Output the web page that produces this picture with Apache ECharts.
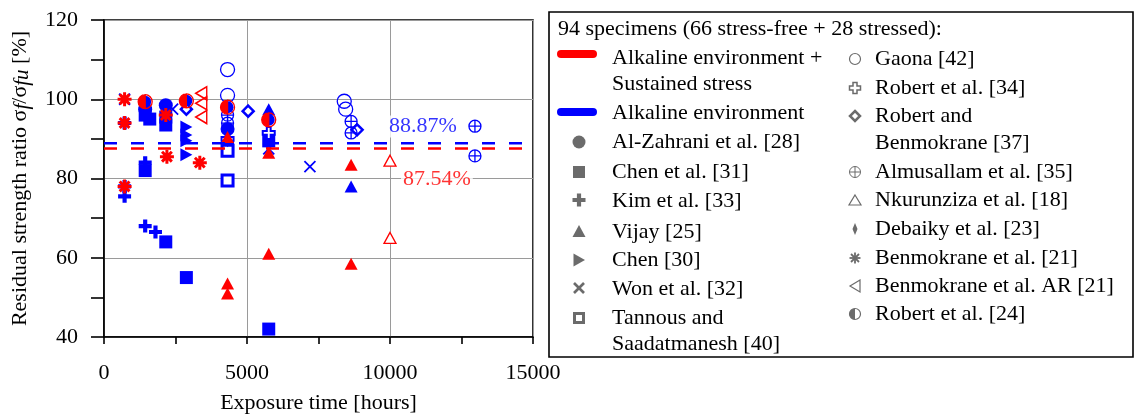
<!DOCTYPE html>
<html>
<head>
<meta charset="utf-8">
<script src="https://cdn.jsdelivr.net/npm/echarts@6/dist/echarts.min.js"></script>
<style>
html,body{margin:0;padding:0;background:#fff;}
#chart{width:1136px;height:419px;}
</style>
</head>
<body>
<div id="chart"></div>
<script>
// ---------------- DATA ----------------
// Stress-free specimens (blue) : [exposure time (h), residual strength ratio (%)]
const alZahraniFree   = [[1440,97.5],[2160,98.5],[4320,92.5]];
const chen31Free      = [[1440,96],[1600,95],[1440,82],[2160,95.5],[2160,93.5],[2160,64],[2880,55],[4320,88],[5760,42],[5760,89.5]];
const kimFree         = [[720,94],[720,78],[720,75.5],[1440,84],[1440,68],[1800,66.5]];
const vijayFree       = [[5760,97.5],[8640,78]];
const chen30Free      = [[2880,93],[2880,91],[2880,89.5],[2880,86]];
const wonFree         = [[720,100],[2400,97.5],[5760,87.5],[7200,83]];
const tannousFree     = [[4320,87],[4320,79.5]];
const gaonaFree       = [[4320,107.5],[4320,101],[8400,99.5],[8450,97.5]];
const robert34Free    = [[5760,91.5],[4320,90]];
const robertBenFree   = [[2880,97.5],[5040,97],[8850,92.3]];
const almusallamFree  = [[4320,96],[4320,94],[8640,94.4],[8640,91.5],[12970,93.2],[12970,85.7]];
const debaikyFree     = [[4320,92],[4320,89.5]];
const robert24Free    = [[1440,99.4],[2880,99.6],[4320,98],[5760,94.8]];
// Stressed specimens (red)
const vijayStressed        = [[4320,90.5],[4320,53.5],[4320,51],[5760,86.5],[5760,61],[8640,83.5],[8640,58.5]];
const nkurunzizaStressed   = [[10000,84.5],[10000,65]];
const benmokraneStressed   = [[720,100],[720,94],[720,78],[2160,96],[2200,85.5],[3350,84]];
const benmokraneARStressed = [[3400,101.5],[3400,99],[3400,95.5]];
const robert24Stressed     = [[1440,99.4],[2880,99.6],[4320,98],[5760,94.8]];
// Mean values
const meanFree = 88.87;
const meanStressed = 87.54;
const meanLabels = ['88.87%','87.54%'];
const meanLabelPos = [[11150,93.1],[11640,79.8]];
const xRange = [0,15000];
// Legend texts
const legendHeader = '94 specimens (66 stress-free + 28 stressed):';
const legendLeft = ['Alkaline environment +','Sustained stress','Alkaline environment','Al-Zahrani et al. [28]','Chen et al. [31]','Kim et al. [33]','Vijay [25]','Chen [30]','Won et al. [32]','Tannous and','Saadatmanesh [40]'];
const legendRight = ['Gaona [42]','Robert et al. [34]','Robert and','Benmokrane [37]','Almusallam et al. [35]','Nkurunziza et al. [18]','Debaiky et al. [23]','Benmokrane et al. [21]','Benmokrane et al. AR [21]','Robert et al. [24]'];

// ---------------- STYLE ----------------
const RED = '#ff0000', BLUE = '#0000ff', GRAY = '#6b6b6b';
const FONT = '"Liberation Serif","Times New Roman",serif';
const FS = 22;
const P = {
  circle: 'M5,0A5,5,0,1,1,5,10A5,5,0,1,1,5,0Z',
  square: 'M0,0H10V10H0Z',
  plus: 'M3.4,0H6.6V3.4H10V6.6H6.6V10H3.4V6.6H0V3.4H3.4Z',
  triUp: 'M5,0L10,9L0,9Z',
  triRight: 'M0,0L9,5L0,10Z',
  triLeft: 'M9,0L0,5L9,10Z',
  cross: 'M0,0L10,10M10,0L0,10',
  diamond: 'M5,0L10,5L5,10L0,5Z',
  crossCircle: 'M5,0A5,5,0,1,1,5,10A5,5,0,1,1,5,0ZM0,5H10M5,0V10',
  thinDiamond: 'M5,0L7.6,5L5,10L2.4,5Z',
  asterisk: 'M5,0V10M0,5H10M1.5,1.5L8.5,8.5M8.5,1.5L1.5,8.5',
  halfLeft: 'M5,0A5,5,0,1,1,5,10A5,5,0,1,1,5,0ZM5,0L5,10A5,5,0,0,0,5,0Z'
};
const T = 'rgba(255,255,255,0)';

function sc(name, data, path, size, fill, stroke, lw, extra) {
  return Object.assign({
    type: 'scatter', name: name, data: data,
    symbol: 'path://' + path, symbolSize: size,
    itemStyle: {color: fill, borderColor: stroke, borderWidth: lw, opacity: 1},
    emphasis: {disabled: true}, silent: true, animation: false
  }, extra || {});
}

const series = [
  // blue (stress-free) first
  sc('Gaona', gaonaFree, P.circle, 14, T, BLUE, 1.3),
  sc('Al-Zahrani', alZahraniFree, P.circle, 14, BLUE, BLUE, 0),
  sc('Robert24F', robert24Free, P.circle, 12, BLUE, BLUE, 0),
  sc('Chen31', chen31Free, P.square, 13, BLUE, BLUE, 0),
  sc('Kim', kimFree, P.plus, 13, BLUE, BLUE, 0),
  sc('Vijay F', vijayFree, P.triUp, [13,12], BLUE, BLUE, 0),
  sc('Chen30', chen30Free, P.triRight, [12,13], BLUE, BLUE, 0),
  sc('Won', wonFree, P.cross, 11, T, BLUE, 1.8),
  sc('Tannous', tannousFree, P.square, 11, '#fff', BLUE, 3),
  sc('Robert34', robert34Free, P.plus, 12, '#fff', BLUE, 2),
  sc('RobertBen', robertBenFree, P.diamond, 11, '#fff', BLUE, 2.5),
  sc('Almusallam', almusallamFree, P.crossCircle, 12, T, BLUE, 1.3),
  sc('Debaiky', debaikyFree, P.thinDiamond, [7,13], BLUE, BLUE, 0),
  // red (stressed)
  sc('Vijay S', vijayStressed, P.triUp, [13,12], RED, RED, 0),
  sc('Nkurunziza', nkurunzizaStressed, P.triUp, [12,11], '#fff', RED, 1.3),
  sc('BenmokraneAR', benmokraneARStressed, P.triLeft, [11,13], T, RED, 1.5),
  sc('Benmokrane', benmokraneStressed, P.asterisk, 14, RED, RED, 3),
  sc('Robert24S', robert24Stressed, P.halfLeft, 14, RED, RED, 1.3),
  // mean lines
  {type:'line', data:[[xRange[0],meanFree],[xRange[1],meanFree]], symbol:'none', silent:true, animation:false,
   lineStyle:{color:BLUE, width:2.5, type:[13,14]}, z:3},
  {type:'line', data:[[xRange[0],meanStressed],[xRange[1],meanStressed]], symbol:'none', silent:true, animation:false,
   lineStyle:{color:RED, width:2.5, type:[13,14]}, z:3},
  // mean labels
  {type:'scatter', data:[meanLabelPos[0]], symbolSize:1, itemStyle:{color:T}, silent:true, animation:false, z:4,
   label:{show:true, position:'inside', formatter:meanLabels[0], color:BLUE, fontFamily:FONT, fontSize:FS, backgroundColor:'#fff', padding:[0,2]}},
  {type:'scatter', data:[meanLabelPos[1]], symbolSize:1, itemStyle:{color:T}, silent:true, animation:false, z:4,
   label:{show:true, position:'inside', formatter:meanLabels[1], color:RED, fontFamily:FONT, fontSize:FS, backgroundColor:'#fff', padding:[0,2]}}
];

// ---------------- LEGEND (graphic primitives) ----------------
const graphic = [];
graphic.push({type:'rect', shape:{x:549, y:12, width:584, height:345}, style:{fill:'#fff', stroke:'#000', lineWidth:1.6}, z:1});
function txt(s, x, y) {
  graphic.push({type:'text', x:x, y:y, z:2, style:{text:s, fill:'#000', font:FS + 'px ' + FONT, verticalAlign:'middle', textVerticalAlign:'middle'}});
}
function ln(x1,y1,x2,y2,color,lw,cap) {
  graphic.push({type:'line', z:2, shape:{x1:x1,y1:y1,x2:x2,y2:y2}, style:{stroke:color, lineWidth:lw, lineCap:cap||'butt'}});
}
function poly(pts, fill, stroke, lw) {
  graphic.push({type:'polygon', z:2, shape:{points:pts}, style:{fill:fill, stroke:stroke||null, lineWidth:lw||0}});
}
function circ(cx, cy, r, fill, stroke, lw) {
  graphic.push({type:'circle', z:2, shape:{cx:cx, cy:cy, r:r}, style:{fill:fill, stroke:stroke||null, lineWidth:lw||0}});
}
function plusPts(cx, cy, s, t) {
  const a = s/2, b = t/2;
  return [[cx-b,cy-a],[cx+b,cy-a],[cx+b,cy-b],[cx+a,cy-b],[cx+a,cy+b],[cx+b,cy+b],[cx+b,cy+a],[cx-b,cy+a],[cx-b,cy+b],[cx-a,cy+b],[cx-a,cy-b],[cx-b,cy-b]];
}
txt(legendHeader, 558, 29);
ln(561, 54, 593, 54, RED, 8, 'round');
ln(561, 112, 593, 112, BLUE, 8, 'round');
const leftY = [58, 84, 113, 142, 172, 201, 232, 260, 289, 318, 344];
legendLeft.forEach((s,i) => txt(s, 612, leftY[i]));
const rightY = [59, 88, 116, 143, 172, 200, 229, 258, 286, 314];
legendRight.forEach((s,i) => txt(s, 875, rightY[i]));
const LX = 579, RX = 855;
// left column markers
circ(LX, 142, 6.5, GRAY);
graphic.push({type:'rect', z:2, shape:{x:LX-6, y:166, width:12, height:12}, style:{fill:GRAY}});
poly(plusPts(LX, 200, 13, 4.2), GRAY);
poly([[LX,225],[LX+6.5,237],[LX-6.5,237]], GRAY);
poly([[LX-5.5,253.5],[LX+6,260],[LX-5.5,266.5]], GRAY);
ln(LX-5, 283, LX+5, 293, GRAY, 2.6); ln(LX+5, 283, LX-5, 293, GRAY, 2.6);
graphic.push({type:'rect', z:2, shape:{x:LX-4.5, y:313.5, width:9, height:9}, style:{fill:'#fff', stroke:GRAY, lineWidth:3}});
// right column markers
circ(RX, 59, 5.5, 'none', GRAY, 1.2);
poly(plusPts(RX, 88, 11, 4), '#fff', GRAY, 1.5);
poly([[RX,111],[RX+5,116],[RX,121],[RX-5,116]], '#fff', GRAY, 2.5);
circ(RX, 172, 5.5, 'none', GRAY, 1);
ln(RX-5.5, 172, RX+5.5, 172, GRAY, 1); ln(RX, 166.5, RX, 177.5, GRAY, 1);
poly([[RX,195],[RX+6,205],[RX-6,205]], 'none', GRAY, 1.2);
poly([[RX,223],[RX+2.5,229],[RX,235],[RX-2.5,229]], GRAY);
ln(RX, 252.5, RX, 263.5, GRAY, 1.8); ln(RX-5.5, 258, RX+5.5, 258, GRAY, 1.8);
ln(RX-4, 254, RX+4, 262, GRAY, 1.8); ln(RX+4, 254, RX-4, 262, GRAY, 1.8);
poly([[RX+5,280],[RX-5,286],[RX+5,292]], 'none', GRAY, 1.2);
graphic.push({type:'sector', z:2, shape:{cx:RX, cy:314, r0:0, r:5.5, startAngle:Math.PI/2, endAngle:Math.PI*1.5, clockwise:true}, style:{fill:GRAY}});
circ(RX, 314, 5.5, 'none', GRAY, 1.2);

// ---------------- CHART ----------------
const axisCommon = {
  axisLine:{show:true, onZero:false, lineStyle:{color:'#000', width:1.6}},
  splitLine:{show:true, lineStyle:{color:'#9a9a9a', width:1}},
  axisLabel:{color:'#000', fontFamily:FONT, fontSize:FS},
  nameTextStyle:{color:'#000', fontFamily:FONT, fontSize:FS}
};
const chart = echarts.init(document.getElementById('chart'), null, {renderer:'canvas'});
chart.setOption({
  animation:false,
  backgroundColor:'#fff',
  grid:{left:104, top:20, width:429, height:322, show:true, borderColor:'#000', borderWidth:1.6, backgroundColor:'transparent'},
  xAxis: Object.assign({}, axisCommon, {
    type:'value', min:xRange[0], max:xRange[1], interval:5000,
    axisTick:{show:true, inside:false, length:7, lineStyle:{color:'#000', width:1.6}},
    minorTick:{show:true, splitNumber:2, length:7, lineStyle:{color:'#000', width:1.6}},
    axisLabel:Object.assign({}, axisCommon.axisLabel, {margin:25, formatter: v => String(v)}),
    name:'Exposure time [hours]', nameLocation:'middle', nameGap:55
  }),
  yAxis: Object.assign({}, axisCommon, {
    type:'value', min:40, max:120, interval:20,
    axisTick:{show:true, inside:false, length:13, lineStyle:{color:'#000', width:1.6}},
    minorTick:{show:true, splitNumber:2, length:13, lineStyle:{color:'#000', width:1.6}},
    axisLabel:Object.assign({}, axisCommon.axisLabel, {margin:26}),
    name:'Residual strength ratio σ{it|f}/σ{it|fu} [%]', nameLocation:'middle', nameGap:71,
    nameTextStyle:Object.assign({}, axisCommon.nameTextStyle, {
      rich:{it:{fontFamily:FONT, fontSize:21, fontStyle:'italic', color:'#000', padding:[4,0,0,0]}}
    })
  }),
  series: series,
  graphic: graphic
});
</script>
</body>
</html>
